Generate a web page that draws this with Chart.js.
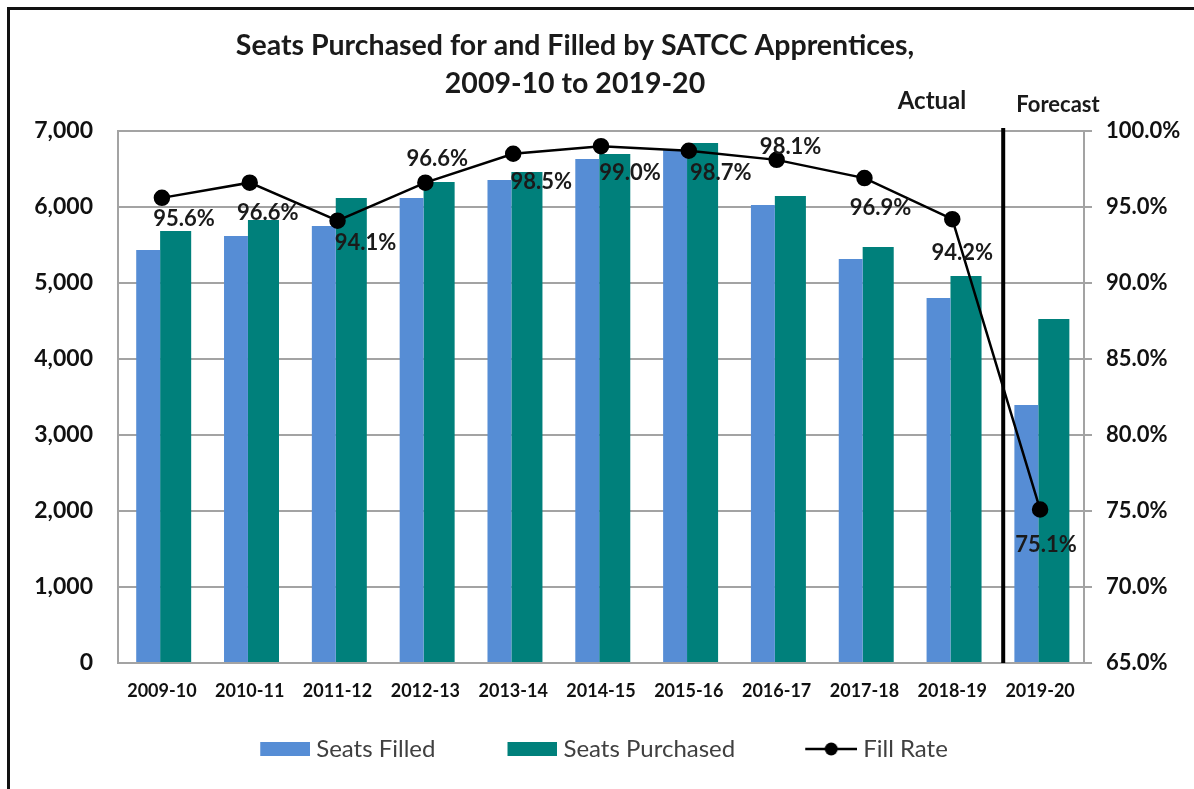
<!DOCTYPE html>
<html>
<head>
<meta charset="utf-8">
<script src="https://cdn.jsdelivr.net/npm/chart.js@4.4.1/dist/chart.umd.min.js"></script>
<style>
    html, body { margin: 0; padding: 0; background: #fff; }
    #contenedor { position: relative; width: 1194px; height: 789px; overflow: hidden; }
    #contenedor canvas { position: absolute; left: 0; top: 0; }
    #marco { position: absolute; left: 7px; top: 7px; right: -10px; bottom: -10px; border-left: 3px solid #111; border-top: 3px solid #111; pointer-events: none; }
</style>
</head>
<body>
<div id="contenedor">
    <canvas id="chart1" width="1194" height="789"></canvas>
    <div id="marco"></div>
</div>
<script>
// Datos.
const PERIODOS = ['2009-10', '2010-11', '2011-12', '2012-13', '2013-14', '2014-15', '2015-16', '2016-17', '2017-18', '2018-19', '2019-20'];
const ASIENTOS_LLENOS = [5434, 5618, 5750, 6118, 6355, 6632, 6750, 6026, 5316, 4803, 3395];
const ASIENTOS_COMPRADOS = [5684, 5829, 6118, 6329, 6460, 6697, 6842, 6145, 5474, 5092, 4526];
const TASA_LLENADO = [95.6, 96.6, 94.1, 96.6, 98.5, 99.0, 98.7, 98.1, 96.9, 94.2, 75.1];
const TITULO = ['Seats Purchased for and Filled by SATCC Apprentices,', '2009-10 to 2019-20'];
const ETIQUETAS_LEYENDA = ['Seats Filled', 'Seats Purchased', 'Fill Rate'];

const FUENTE = 'Lato, "Open Sans", sans-serif';
const AZUL = '#568DD5';
const VERDE = '#00807B';
const GRIS = '#a3a3a3';

// Desplazamiento de cada etiqueta de porcentaje respecto a su punto (x, y).
const DESPLAZAMIENTOS = [[22, 21], [18, 30], [28, 22], [12, -24], [28, 28], [29, 27], [32, 22], [14, -13], [16, 30], [10, 34], [6, 35]];

/*
*   Función para crear el icono de la leyenda en un canvas.
*   El icono deja un espacio en blanco a la izquierda para separar los elementos.
*/
const crearIcono = (tipo, color) => {
    const c = document.createElement('canvas');
    c.width = 114;
    c.height = 14;
    const ctx = c.getContext('2d');
    if (tipo === 'linea') {
        ctx.strokeStyle = color;
        ctx.lineWidth = 2.5;
        ctx.beginPath();
        ctx.moveTo(62, 7);
        ctx.lineTo(114, 7);
        ctx.stroke();
        ctx.fillStyle = color;
        ctx.beginPath();
        ctx.arc(88, 7, 6.5, 0, Math.PI * 2);
        ctx.fill();
    } else {
        ctx.fillStyle = color;
        ctx.fillRect(64, 0, 50, 14);
    }
    return c;
}

const ICONOS = [crearIcono('barra', AZUL), crearIcono('barra', VERDE), crearIcono('linea', '#000')];

// Complemento para la línea divisoria, sus textos y las etiquetas de datos.
const extras = {
    id: 'extras',
    afterDatasetsDraw(chart) {
        const ctx = chart.ctx;
        const x = chart.scales.x;
        const area = chart.chartArea;
        ctx.save();
        // Línea que separa lo real del pronóstico.
        const xs = x.getPixelForValue(9.58);
        ctx.strokeStyle = '#000';
        ctx.lineWidth = 4;
        ctx.beginPath();
        ctx.moveTo(xs, area.top - 3);
        ctx.lineTo(xs, area.bottom);
        ctx.stroke();
        // Etiquetas de porcentaje.
        const meta = chart.getDatasetMeta(2);
        ctx.fillStyle = '#1a1a1a';
        ctx.font = 'bold 22px ' + FUENTE;
        ctx.textAlign = 'center';
        ctx.textBaseline = 'middle';
        meta.data.forEach((p, i) => {
            const d = DESPLAZAMIENTOS[i];
            ctx.fillText(TASA_LLENADO[i].toFixed(1) + '%', p.x + d[0], p.y + d[1]);
        });
        // Textos de real y pronóstico.
        ctx.font = 'bold 24px ' + FUENTE;
        ctx.fillText('Actual', 932, 101);
        ctx.font = 'bold 22px ' + FUENTE;
        ctx.fillText('Forecast', 1058, 105);
        ctx.restore();
    }
};

new Chart(document.getElementById('chart1'), {
    type: 'bar',
    data: {
        labels: PERIODOS,
        datasets: [{
            label: ETIQUETAS_LEYENDA[0],
            data: ASIENTOS_LLENOS,
            backgroundColor: AZUL,
            yAxisID: 'y',
            order: 1,
            categoryPercentage: 0.626,
            barPercentage: 0.87
        }, {
            label: ETIQUETAS_LEYENDA[1],
            data: ASIENTOS_COMPRADOS,
            backgroundColor: VERDE,
            yAxisID: 'y',
            order: 1,
            categoryPercentage: 0.626,
            barPercentage: 1.13
        }, {
            type: 'line',
            label: ETIQUETAS_LEYENDA[2],
            data: TASA_LLENADO,
            yAxisID: 'y1',
            borderColor: '#000',
            backgroundColor: '#000',
            borderWidth: 2.5,
            pointRadius: 7,
            pointBackgroundColor: '#000',
            tension: 0,
            order: 0
        }]
    },
    options: {
        responsive: false,
        animation: false,
        layout: {
            // El margen izquierdo negativo centra el título y la leyenda como en el original.
            padding: { top: 10, left: -44, right: 0, bottom: 18 }
        },
        scales: {
            x: {
                grid: { display: false, drawTicks: false },
                border: { color: GRIS, width: 2 },
                ticks: { color: '#111', font: { family: FUENTE, size: 18, weight: 'bold' }, padding: 17, maxRotation: 0, autoSkip: false },
                afterFit: (s) => { s.height = 60; }
            },
            y: {
                position: 'left',
                min: 0,
                max: 7000,
                ticks: {
                    stepSize: 1000,
                    color: '#111',
                    padding: 25,
                    font: { family: FUENTE, size: 23, weight: 'bold' },
                    callback: (v) => v.toLocaleString('en-US')
                },
                grid: { color: GRIS, lineWidth: 2, drawTicks: false },
                border: { color: GRIS, width: 2 },
                afterFit: (s) => { s.width = 162; }
            },
            y1: {
                position: 'right',
                min: 65,
                max: 100,
                ticks: {
                    stepSize: 5,
                    color: '#111',
                    padding: 14,
                    font: { family: FUENTE, size: 22, weight: 'bold' },
                    callback: (v) => v.toFixed(1) + '%'
                },
                grid: { drawOnChartArea: false, color: GRIS, lineWidth: 2, tickLength: 8 },
                border: { color: GRIS, width: 2 },
                afterFit: (s) => { s.width = 110; }
            }
        },
        plugins: {
            title: {
                display: true,
                text: TITULO,
                color: '#1a1a1a',
                font: { family: FUENTE, size: 28.5, weight: 'bold', lineHeight: 1.333 },
                padding: { top: 17, bottom: 28 }
            },
            tooltip: { enabled: false },
            legend: {
                position: 'bottom',
                labels: {
                    usePointStyle: true,
                    pointStyleWidth: 102,
                    boxHeight: 14,
                    padding: 14,
                    color: '#404040',
                    font: { family: FUENTE, size: 24 },
                    generateLabels: (chart) => chart.data.datasets.map((ds, i) => ({
                        text: ds.label,
                        pointStyle: ICONOS[i],
                        fillStyle: ds.backgroundColor,
                        strokeStyle: ds.borderColor || ds.backgroundColor,
                        lineWidth: 0,
                        fontColor: '#404040',
                        hidden: !chart.isDatasetVisible(i),
                        datasetIndex: i
                    }))
                }
            }
        }
    },
    plugins: [extras]
});
</script>
</body>
</html>
